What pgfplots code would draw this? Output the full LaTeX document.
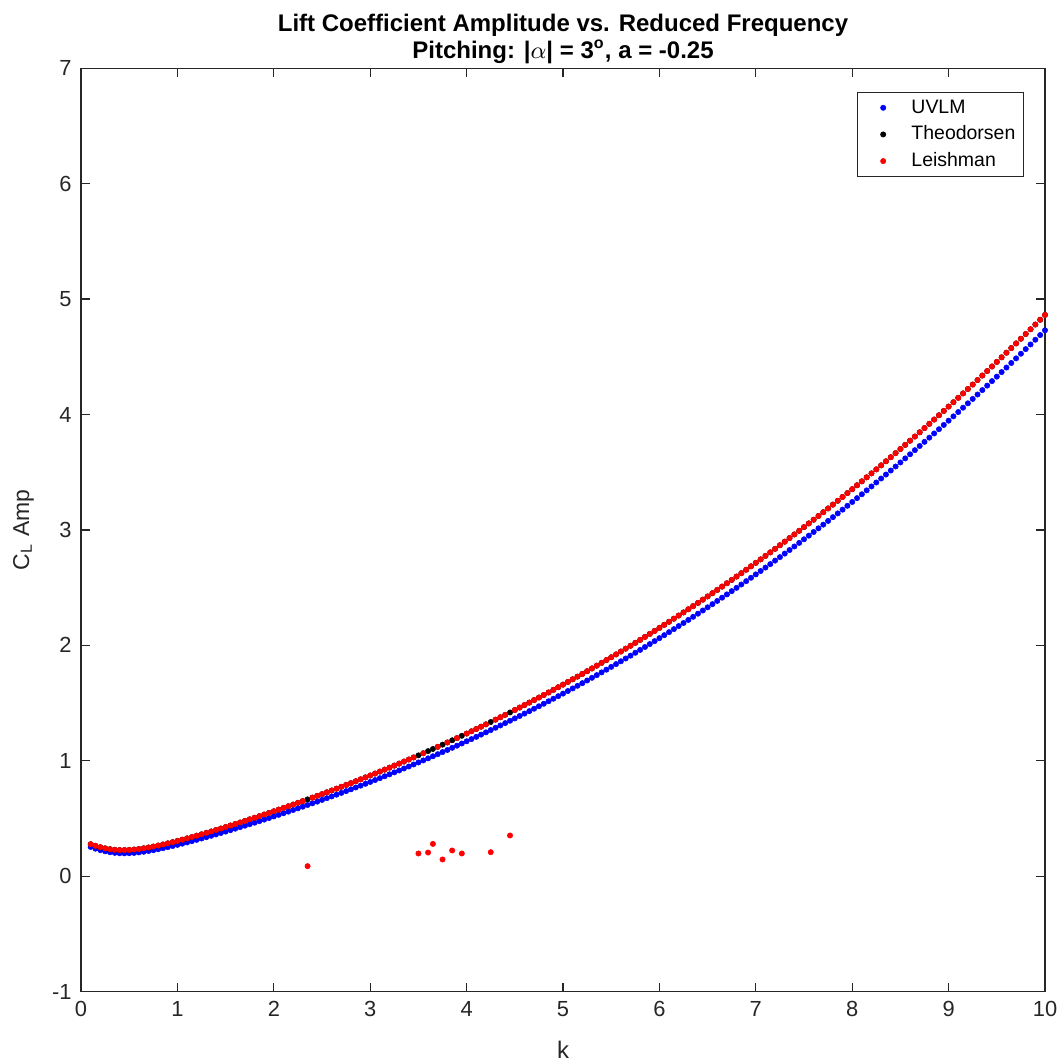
\documentclass[border=0pt]{standalone}
\usepackage{fontspec}
\setmainfont{Liberation Sans}
\usepackage{pgfplots}
\usepackage{pgfplotstable}
\pgfplotsset{compat=1.18}

\definecolor{axgray}{RGB}{38,38,38}

\pgfplotsset{
  % dot markers for the data series
  dotseries/.style={only marks, mark=*, mark size=1.0pt, color=#1,
    mark options={line width=0.2pt}, forget plot},
  % legend sample: one dot centred in a 17pt wide slot
  dotlegend/.style={color=#1, mark=*, mark size=1.0pt,
    mark options={line width=0.2pt},
    legend image code/.code={%
      \path[draw=none] (0pt,0pt) -- (17.2pt,0pt);
      \draw[##1] plot[only marks] coordinates {(8.6pt,0pt)};}},
}

% Lift coefficient amplitude for a pitching airfoil, |alpha| = 3 deg, a = -0.25
% columns: reduced frequency, UVLM, Theodorsen, Leishman
\pgfplotstableread{
k uvlm theo leish
0.10 0.2530 0.2771 0.2771
0.15 0.2384 0.2630 0.2630
0.20 0.2261 0.2513 0.2513
0.25 0.2158 0.2416 0.2416
0.30 0.2078 0.2341 0.2341
0.35 0.2022 0.2291 0.2291
0.40 0.1991 0.2265 0.2265
0.45 0.1982 0.2262 0.2262
0.50 0.1993 0.2278 0.2278
0.55 0.2020 0.2311 0.2311
0.60 0.2063 0.2359 0.2359
0.65 0.2118 0.2419 0.2419
0.70 0.2183 0.2490 0.2490
0.75 0.2256 0.2569 0.2569
0.80 0.2337 0.2655 0.2655
0.85 0.2424 0.2748 0.2748
0.90 0.2517 0.2846 0.2846
0.95 0.2614 0.2949 0.2949
1.00 0.2715 0.3055 0.3055
1.05 0.2820 0.3165 0.3165
1.10 0.2927 0.3278 0.3278
1.15 0.3037 0.3394 0.3394
1.20 0.3150 0.3512 0.3512
1.25 0.3265 0.3632 0.3632
1.30 0.3382 0.3755 0.3755
1.35 0.3500 0.3879 0.3879
1.40 0.3621 0.4005 0.4005
1.45 0.3743 0.4132 0.4132
1.50 0.3866 0.4261 0.4261
1.55 0.3991 0.4392 0.4392
1.60 0.4118 0.4524 0.4524
1.65 0.4246 0.4657 0.4657
1.70 0.4375 0.4792 0.4792
1.75 0.4506 0.4928 0.4928
1.80 0.4637 0.5065 0.5065
1.85 0.4771 0.5204 0.5204
1.90 0.4905 0.5344 0.5344
1.95 0.5040 0.5485 0.5485
2.00 0.5177 0.5627 0.5627
2.05 0.5315 0.5771 0.5771
2.10 0.5454 0.5915 0.5915
2.15 0.5594 0.6061 0.6061
2.20 0.5736 0.6208 0.6208
2.25 0.5879 0.6356 0.6356
2.30 0.6023 0.6506 0.6506
2.35 0.6168 0.6656 0.0870
2.40 0.6314 0.6808 0.6808
2.45 0.6462 0.6961 0.6961
2.50 0.6610 0.7115 0.7115
2.55 0.6760 0.7271 0.7271
2.60 0.6911 0.7428 0.7428
2.65 0.7064 0.7586 0.7586
2.70 0.7218 0.7745 0.7745
2.75 0.7373 0.7905 0.7905
2.80 0.7529 0.8067 0.8067
2.85 0.7687 0.8230 0.8230
2.90 0.7845 0.8394 0.8394
2.95 0.8006 0.8560 0.8560
3.00 0.8167 0.8727 0.8727
3.05 0.8330 0.8895 0.8895
3.10 0.8494 0.9065 0.9065
3.15 0.8659 0.9236 0.9236
3.20 0.8826 0.9408 0.9408
3.25 0.8995 0.9583 0.9583
3.30 0.9164 0.9757 0.9757
3.35 0.9335 0.9933 0.9933
3.40 0.9507 1.0111 1.0111
3.45 0.9681 1.0291 1.0291
3.50 0.9856 1.0471 0.1970
3.55 1.0033 1.0653 1.0653
3.60 1.0211 1.0837 0.2050
3.65 1.0390 1.1022 0.2800
3.70 1.0571 1.1208 1.1208
3.75 1.0754 1.1396 0.1450
3.80 1.0938 1.1586 1.1586
3.85 1.1123 1.1777 0.2230
3.90 1.1310 1.1969 1.1969
3.95 1.1499 1.2163 0.1970
4.00 1.1689 1.2359 1.2359
4.05 1.1880 1.2556 1.2556
4.10 1.2073 1.2754 1.2754
4.15 1.2268 1.2954 1.2954
4.20 1.2464 1.3156 1.3156
4.25 1.2661 1.3359 0.2080
4.30 1.2861 1.3564 1.3564
4.35 1.3061 1.3770 1.3770
4.40 1.3264 1.3978 1.3978
4.45 1.3468 1.4187 0.3530
4.50 1.3674 1.4399 1.4399
4.55 1.3881 1.4611 1.4611
4.60 1.4090 1.4826 1.4826
4.65 1.4300 1.5042 1.5042
4.70 1.4512 1.5259 1.5259
4.75 1.4726 1.5479 1.5479
4.80 1.4941 1.5699 1.5699
4.85 1.5159 1.5922 1.5922
4.90 1.5377 1.6146 1.6146
4.95 1.5598 1.6372 1.6372
5.00 1.5820 1.6600 1.6600
5.05 1.6044 1.6829 1.6829
5.10 1.6269 1.7060 1.7060
5.15 1.6496 1.7293 1.7293
5.20 1.6725 1.7527 1.7527
5.25 1.6956 1.7763 1.7763
5.30 1.7188 1.8001 1.8001
5.35 1.7422 1.8241 1.8241
5.40 1.7658 1.8482 1.8482
5.45 1.7895 1.8725 1.8725
5.50 1.8135 1.8970 1.8970
5.55 1.8376 1.9216 1.9216
5.60 1.8619 1.9465 1.9465
5.65 1.8863 1.9715 1.9715
5.70 1.9109 1.9966 1.9966
5.75 1.9357 2.0220 2.0220
5.80 1.9607 2.0475 2.0475
5.85 1.9859 2.0732 2.0732
5.90 2.0112 2.0991 2.0991
5.95 2.0368 2.1252 2.1252
6.00 2.0625 2.1515 2.1515
6.05 2.0883 2.1779 2.1779
6.10 2.1144 2.2045 2.2045
6.15 2.1406 2.2313 2.2313
6.20 2.1671 2.2583 2.2583
6.25 2.1937 2.2854 2.2854
6.30 2.2205 2.3128 2.3128
6.35 2.2474 2.3403 2.3403
6.40 2.2746 2.3680 2.3680
6.45 2.3019 2.3959 2.3959
6.50 2.3294 2.4239 2.4239
6.55 2.3571 2.4522 2.4522
6.60 2.3850 2.4806 2.4806
6.65 2.4131 2.5092 2.5092
6.70 2.4414 2.5381 2.5381
6.75 2.4698 2.5671 2.5671
6.80 2.4984 2.5962 2.5962
6.85 2.5272 2.6256 2.6256
6.90 2.5563 2.6552 2.6552
6.95 2.5854 2.6849 2.6849
7.00 2.6148 2.7148 2.7148
7.05 2.6444 2.7449 2.7449
7.10 2.6741 2.7752 2.7752
7.15 2.7041 2.8057 2.8057
7.20 2.7342 2.8364 2.8364
7.25 2.7645 2.8673 2.8673
7.30 2.7950 2.8983 2.8983
7.35 2.8257 2.9296 2.9296
7.40 2.8566 2.9610 2.9610
7.45 2.8877 2.9927 2.9927
7.50 2.9190 3.0245 3.0245
7.55 2.9504 3.0565 3.0565
7.60 2.9821 3.0887 3.0887
7.65 3.0139 3.1211 3.1211
7.70 3.0460 3.1537 3.1537
7.75 3.0782 3.1864 3.1864
7.80 3.1106 3.2194 3.2194
7.85 3.1432 3.2526 3.2526
7.90 3.1760 3.2859 3.2859
7.95 3.2090 3.3195 3.3195
8.00 3.2422 3.3532 3.3532
8.05 3.2756 3.3871 3.3871
8.10 3.3091 3.4212 3.4212
8.15 3.3429 3.4555 3.4555
8.20 3.3769 3.4901 3.4901
8.25 3.4110 3.5248 3.5248
8.30 3.4453 3.5596 3.5596
8.35 3.4799 3.5947 3.5947
8.40 3.5146 3.6300 3.6300
8.45 3.5495 3.6655 3.6655
8.50 3.5847 3.7012 3.7012
8.55 3.6200 3.7370 3.7370
8.60 3.6555 3.7731 3.7731
8.65 3.6912 3.8094 3.8094
8.70 3.7271 3.8458 3.8458
8.75 3.7632 3.8825 3.8825
8.80 3.7995 3.9193 3.9193
8.85 3.8360 3.9563 3.9563
8.90 3.8727 3.9936 3.9936
8.95 3.9096 4.0310 4.0310
9.00 3.9466 4.0686 4.0686
9.05 3.9839 4.1065 4.1065
9.10 4.0214 4.1445 4.1445
9.15 4.0591 4.1827 4.1827
9.20 4.0969 4.2211 4.2211
9.25 4.1350 4.2597 4.2597
9.30 4.1732 4.2985 4.2985
9.35 4.2117 4.3375 4.3375
9.40 4.2503 4.3767 4.3767
9.45 4.2892 4.4161 4.4161
9.50 4.3282 4.4557 4.4557
9.55 4.3675 4.4955 4.4955
9.60 4.4069 4.5355 4.5355
9.65 4.4466 4.5757 4.5757
9.70 4.4864 4.6161 4.6161
9.75 4.5265 4.6567 4.6567
9.80 4.5667 4.6975 4.6975
9.85 4.6071 4.7385 4.7385
9.90 4.6478 4.7797 4.7797
9.95 4.6886 4.8211 4.8211
10.00 4.7296 4.8626 4.8626
}\cldata

\begin{document}
\begin{tikzpicture}
\begin{axis}[
  scale only axis,
  width=361.5pt, height=346.3pt,
  xmin=0, xmax=10, ymin=-1, ymax=7,
  xtick={0,1,...,10}, ytick={-1,0,...,7},
  tick align=inside,
  major tick length=3.2pt,
  axis line style={draw=axgray, line width=0.45pt},
  every tick/.style={draw=axgray, line width=0.45pt},
  /pgf/number format/assume math mode=true,
  ticklabel style={font=\fontsize{8.2}{9.5}\selectfont, text=axgray},
  xlabel={k},
  ylabel={C\textsubscript{L} Amp},
  xlabel style={font=\fontsize{9}{10}\selectfont, text=axgray, yshift=-2.4pt},
  ylabel style={font=\fontsize{8.6}{10}\selectfont, text=axgray, yshift=0pt},
  title style={font=\fontsize{9}{8.8}\selectfont\bfseries, align=center, text=black, yshift=-7.8pt},
  title={Lift Coefficient Amplitude vs. Reduced Frequency\\Pitching: |$\alpha$| = 3\textsuperscript{o}, a = -0.25},
  legend cell align=left,
  legend style={
    at={(1,1)}, anchor=north east, xshift=-7.9pt, yshift=-8.8pt,
    draw=axgray, line width=0.45pt, fill=white,
    font=\fontsize{7.3}{8.5}\selectfont,
    inner xsep=1pt, inner ysep=1.2pt,
    nodes={inner xsep=2pt, inner ysep=1pt, text height=5.6pt, text depth=1.6pt},
    row sep=0.8pt,
  },
]
\addlegendimage{dotlegend=blue}
\addlegendimage{dotlegend=black}
\addlegendimage{dotlegend=red}
\legend{UVLM, Theodorsen, Leishman}
\addplot[dotseries=blue] table[x=k, y=uvlm] {\cldata};
\addplot[dotseries=black] table[x=k, y=theo] {\cldata};
\addplot[dotseries=red] table[x=k, y=leish] {\cldata};
\end{axis}
\pgfresetboundingbox
\path ([shift={(-30.4pt,-25.6pt)}]current axis.south west)
  rectangle ([shift={(6.75pt,25.6pt)}]current axis.north east);
\end{tikzpicture}
\end{document}
